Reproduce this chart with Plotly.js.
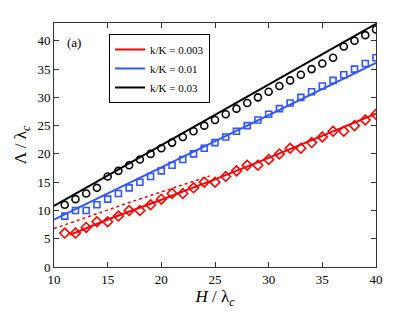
<!DOCTYPE html>
<html>
<head>
<meta charset="utf-8">
<script src="https://cdn.plot.ly/plotly-3.0.1.min.js"></script>
<style>html,body{margin:0;padding:0;background:#fff;}#chart{width:415px;height:313px;}</style>
</head>
<body>
<div id="chart"></div>
<script>
// Data points (H/lambda_c)
var H = [11,12,13,14,15,16,17,18,19,20,21,22,23,24,25,26,27,28,29,30,31,32,33,34,35,36,37,38,39,40];
var black03 = [11,12,13,14,16,17,18,19,20,21,22,23,24,25,26,27,28,29,30,31,32,33,34,35,36,37,39,40,41,42];
var blue01  = [9,10,10,11,12,13,14,15,16,17,18,19,20,21,22,23,24,25,26,27,28,29,30,31,32,33,34,35,36,37];
var red003  = [6,6,7,8,8,9,10,10,11,12,13,13,14,15,15,16,17,18,18,19,20,21,21,22,23,24,24,25,26,27];

// Theory curves
var blackLineH = [10,40];
var blackLineV = [10.8,43.0];
var blueLineH = [10,40];
var blueLineV = [8.4,36.1];
var redLineH = [11.5,15,20,25,30,35,40];
var redLineV = [5.7,8.4,11.9,15.5,19.3,23.2,27.1];
var redDotH = [10,17,24.5];
var redDotV = [6.8,11.4,16.1];

var legendNames = ['k/K = 0.003','k/K = 0.01','k/K = 0.03'];
var cRed = '#ff0000', cBlue = '#3355ff', cBlack = '#000000';

var traces = [
  {x:redLineH, y:redLineV, mode:'lines', line:{color:cRed,width:2}, name:legendNames[0]},
  {x:blueLineH, y:blueLineV, mode:'lines', line:{color:cBlue,width:2}, name:legendNames[1]},
  {x:blackLineH, y:blackLineV, mode:'lines', line:{color:cBlack,width:2}, name:legendNames[2]},
  {x:redDotH, y:redDotV, mode:'lines', line:{color:cRed,width:1.5,dash:'dot'}, showlegend:false},
  {x:H, y:red003, mode:'markers', marker:{symbol:'diamond-open',size:7.5,color:cRed,line:{width:1.6,color:cRed}}, showlegend:false},
  {x:H, y:blue01, mode:'markers', marker:{symbol:'square-open',size:6,color:cBlue,line:{width:1.6,color:cBlue}}, showlegend:false},
  {x:H, y:black03, mode:'markers', marker:{symbol:'circle-open',size:7,color:cBlack,line:{width:1.6,color:cBlack}}, showlegend:false}
];

var fnt = {family:'Liberation Serif, Times New Roman, serif', color:'#000'};
var layout = {
  width:415, height:313,
  margin:{l:54, r:39, t:23, b:46},
  paper_bgcolor:'#fff', plot_bgcolor:'#fff',
  font:{family:fnt.family, size:13, color:'#000'},
  showlegend:true,
  legend:{x:0.171, y:0.955, xanchor:'left', yanchor:'top', bgcolor:'#fff', bordercolor:'#000', borderwidth:1,
          font:{family:fnt.family, size:11, color:'#000'}, tracegroupgap:0, itemwidth:30},
  xaxis:{range:[10,40], tickvals:[10,15,20,25,30,35,40], ticks:'inside', ticklen:5, tickcolor:'#333',
         showline:true, linecolor:'#333', linewidth:1, mirror:'ticks', showgrid:false, zeroline:false,
         tickfont:{family:fnt.family, size:13, color:'#000'},
         title:{text:'<i>H</i> / λ<sub><i>c</i></sub>', font:{family:fnt.family, size:17, color:'#000'}, standoff:4}},
  yaxis:{range:[0,43.15], tickvals:[0,5,10,15,20,25,30,35,40], ticks:'inside', ticklen:5, tickcolor:'#333',
         showline:true, linecolor:'#333', linewidth:1, mirror:'ticks', showgrid:false, zeroline:false,
         tickfont:{family:fnt.family, size:13, color:'#000'},
         title:{text:'Λ / λ<sub><i>c</i></sub>', font:{family:fnt.family, size:17, color:'#000'}, standoff:6}},
  annotations:[{text:'(a)', xref:'paper', yref:'paper', x:0.034, y:0.92, xanchor:'left', yanchor:'middle', showarrow:false,
                font:{family:fnt.family, size:13, color:'#000'}}]
};
Plotly.newPlot('chart', traces, layout, {displayModeBar:false, staticPlot:true});
</script>
</body>
</html>
